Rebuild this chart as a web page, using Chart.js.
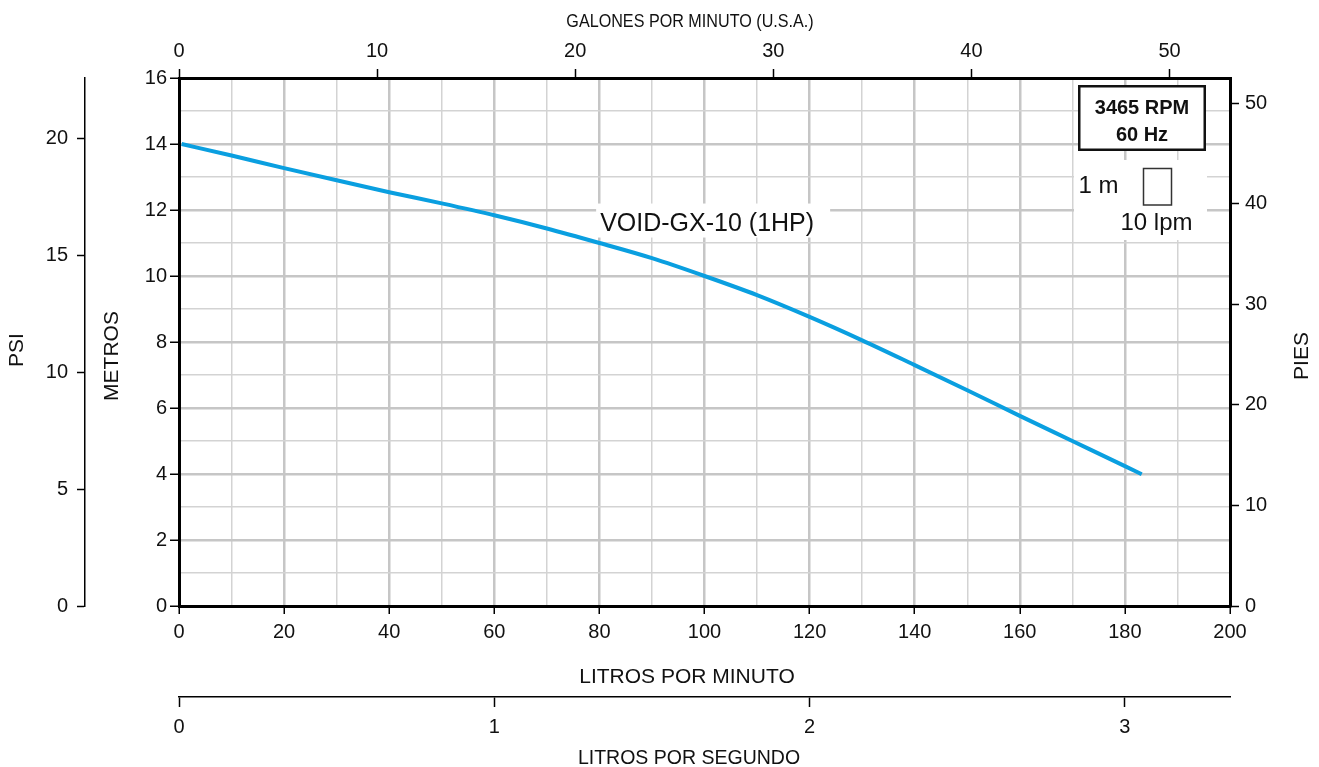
<!DOCTYPE html>
<html>
<head>
<meta charset="utf-8">
<script src="https://cdn.jsdelivr.net/npm/chart.js@4.4.1/dist/chart.umd.min.js"></script>
<style>
html,body{margin:0;padding:0;background:#fff;}
#wrap{position:relative;width:1319px;height:767px;}
</style>
</head>
<body>
<div id="wrap"><canvas id="c" width="1319" height="767"></canvas></div>
<script>
// ---- data ----
const flowLpm = [0.5, 10, 20, 30, 40, 50, 60, 70, 80, 90, 100, 110, 120, 130, 140, 150, 160, 170, 180, 183.2];
const headM   = [14.0, 13.65, 13.27, 12.9, 12.54, 12.2, 11.84, 11.44, 11.0, 10.54, 10.0, 9.42, 8.76, 8.05, 7.3, 6.54, 5.76, 5.0, 4.24, 3.99];
const seriesName = 'VOID-GX-10 (1HP)';

// ---- ticks ----
const lpmGrid   = [0,10,20,30,40,50,60,70,80,90,100,110,120,130,140,150,160,170,180,190,200];
const lpmLabels = [0,20,40,60,80,100,120,140,160,180,200];
const mGrid     = [0,1,2,3,4,5,6,7,8,9,10,11,12,13,14,15,16];
const mLabels   = [0,2,4,6,8,10,12,14,16];
const gpmTicks  = [0,10,20,30,40,50];
const lpsTicks  = [0,1,2,3];
const psiTicks  = [0,5,10,15,20];
const ftTicks   = [0,10,20,30,40,50];

// ---- unit conversions ----
const LPM_PER_GPM = 3.77;
const LPM_PER_LPS = 60;
const M_PER_PSI = 0.7085;
const M_PER_FT = 0.3048;
const X_MAX = 200, Y_MAX = 16;

const F = '"Liberation Sans", Arial, Helvetica, sans-serif';
const tickFont = {family: F, size: 20};
const TXT = '#111';
const MAJ = '#c6c6c6', MIN = '#d3d3d3';

function setTicks(arr){ return s => { s.ticks = arr.map(v => ({value: v})); }; }
const isMaj = (c, step) => c.tick && Math.abs(c.tick.value % step) < 1e-9;

const decor = {
  id: 'decor',
  afterDatasetsDraw(chart) {
    const ctx = chart.ctx, ca = chart.chartArea;
    const sx = chart.scales.x, sy = chart.scales.y;
    ctx.save();
    // series label
    const lx = sx.getPixelForValue(100.5), ly = sy.getPixelForValue(11.65);
    ctx.fillStyle = '#fff';
    ctx.fillRect(lx - 111, ly - 18, 234, 34);
    ctx.font = '25px ' + F;
    ctx.fillStyle = TXT;
    ctx.textAlign = 'center';
    ctx.textBaseline = 'alphabetic';
    ctx.fillText(seriesName, lx, ly + 9);

    // legend box
    const R = ca.right, T = ca.top;
    ctx.fillStyle = '#fff';
    ctx.fillRect(R - 156, T + 82, 133, 80);
    ctx.fillRect(R - 152, T + 7, 128, 66);
    ctx.strokeStyle = '#111';
    ctx.lineWidth = 2.5;
    ctx.strokeRect(R - 150.75, T + 8.25, 125.5, 63.5);
    ctx.font = 'bold 20px ' + F;
    ctx.fillStyle = TXT;
    ctx.fillText('3465 RPM', R - 88, T + 36);
    ctx.fillText('60 Hz', R - 88, T + 63);
    ctx.font = '24px ' + F;
    ctx.textAlign = 'left';
    ctx.fillText('1 m', R - 151.5, T + 115);
    ctx.textAlign = 'center';
    ctx.fillText('10 lpm', R - 73.5, T + 152);
    ctx.lineWidth = 1.5;
    ctx.strokeStyle = '#333';
    ctx.strokeRect(R - 86.5, T + 90.5, 28, 36.5);
    ctx.restore();
  },
  afterDraw(chart) {
    const ctx = chart.ctx;
    ctx.save();
    ctx.fillStyle = TXT;
    ctx.textAlign = 'center';
    ctx.textBaseline = 'alphabetic';
    const ht = (t, size, sxf, cx, cy) => {
      ctx.save();
      ctx.font = size + 'px ' + F;
      ctx.translate(cx, cy + 0.358 * size);
      ctx.scale(sxf, 1);
      ctx.fillText(t, 0, 0);
      ctx.restore();
    };
    ht('GALONES POR MINUTO (U.S.A.)', 19, 0.85, 690, 20);
    ht('LITROS POR MINUTO', 21, 1, 687, 675);
    ht('LITROS POR SEGUNDO', 19.5, 1, 689, 757);
    const vt = (t, size, cx, cy) => {
      ctx.save();
      ctx.font = size + 'px ' + F;
      ctx.translate(cx + 0.358 * size, cy);
      ctx.rotate(-Math.PI / 2);
      ctx.fillText(t, 0, 0);
      ctx.restore();
    };
    vt('PSI', 21, 15, 350);
    vt('METROS', 21, 110.5, 356);
    vt('PIES', 21, 1300, 356);
    ctx.restore();
  }
};

new Chart(document.getElementById('c'), {
  type: 'line',
  data: {
    datasets: [{
      label: seriesName,
      data: flowLpm.map((q, i) => ({x: q, y: headM[i]})),
      borderColor: '#0a9fe0',
      borderWidth: 4,
      pointRadius: 0,
      cubicInterpolationMode: 'monotone',
      xAxisID: 'x',
      yAxisID: 'y'
    }]
  },
  options: {
    responsive: false,
    animation: false,
    devicePixelRatio: 1,
    layout: {padding: 0},
    plugins: {legend: {display: false}, tooltip: {enabled: false}},
    scales: {
      x: {
        type: 'linear', position: 'bottom', min: 0, max: X_MAX, weight: 0,
        afterBuildTicks: setTicks(lpmGrid),
        afterFit: s => { s.height = 91; },
        ticks: {autoSkip: false, maxRotation: 0, font: tickFont, color: TXT, padding: 6,
                callback: v => lpmLabels.includes(v) ? String(v) : ''},
        grid: {color: c => isMaj(c, 20) ? MAJ : MIN, lineWidth: c => isMaj(c, 20) ? 2.5 : 1.5,
               tickLength: 8, tickWidth: 1.5, tickColor: c => isMaj(c, 20) ? '#000' : 'rgba(0,0,0,0)'},
        border: {display: true, color: '#000', width: 3}
      },
      xLps: {
        type: 'linear', position: 'bottom', min: 0, max: X_MAX / LPM_PER_LPS, weight: 1,
        afterBuildTicks: setTicks(lpsTicks),
        afterFit: s => { s.height = 70; },
        ticks: {autoSkip: false, maxRotation: 0, font: tickFont, color: TXT, padding: 8},
        grid: {drawOnChartArea: false, tickLength: 10, tickWidth: 1.5, tickColor: '#000'},
        border: {display: true, color: '#000', width: 1.5}
      },
      x2: {
        type: 'linear', position: 'top', min: 0, max: X_MAX / LPM_PER_GPM,
        afterBuildTicks: setTicks(gpmTicks),
        afterFit: s => { s.height = 78; },
        ticks: {autoSkip: false, maxRotation: 0, font: tickFont, color: TXT, padding: 6},
        grid: {drawOnChartArea: false, tickLength: 9, tickWidth: 1.5, tickColor: '#000'},
        border: {display: true, color: '#000', width: 3}
      },
      y: {
        type: 'linear', position: 'left', min: 0, max: Y_MAX, weight: 0,
        afterBuildTicks: setTicks(mGrid),
        afterFit: s => { s.width = 94; },
        ticks: {autoSkip: false, font: tickFont, color: TXT, padding: 3,
                callback: v => mLabels.includes(v) ? String(v) : ''},
        grid: {color: c => isMaj(c, 2) ? MAJ : MIN, lineWidth: c => isMaj(c, 2) ? 2.5 : 1.5,
               tickLength: 9, tickWidth: 1.5, tickColor: c => isMaj(c, 2) ? '#000' : 'rgba(0,0,0,0)'},
        border: {display: true, color: '#000', width: 3}
      },
      yPsi: {
        type: 'linear', position: 'left', min: 0, max: Y_MAX / M_PER_PSI, weight: 1,
        afterBuildTicks: setTicks(psiTicks),
        afterFit: s => { s.width = 85; },
        ticks: {autoSkip: false, font: tickFont, color: TXT, padding: 9},
        grid: {drawOnChartArea: false, tickLength: 8, tickWidth: 1.5, tickColor: '#000'},
        border: {display: true, color: '#000', width: 1.5}
      },
      yFt: {
        type: 'linear', position: 'right', min: 0, max: Y_MAX / M_PER_FT,
        afterBuildTicks: setTicks(ftTicks),
        afterFit: s => { s.width = 89; },
        ticks: {autoSkip: false, font: tickFont, color: TXT, padding: 6},
        grid: {drawOnChartArea: false, tickLength: 9, tickWidth: 1.5, tickColor: '#000'},
        border: {display: true, color: '#000', width: 3}
      }
    }
  },
  plugins: [decor]
});
</script>
</body>
</html>
